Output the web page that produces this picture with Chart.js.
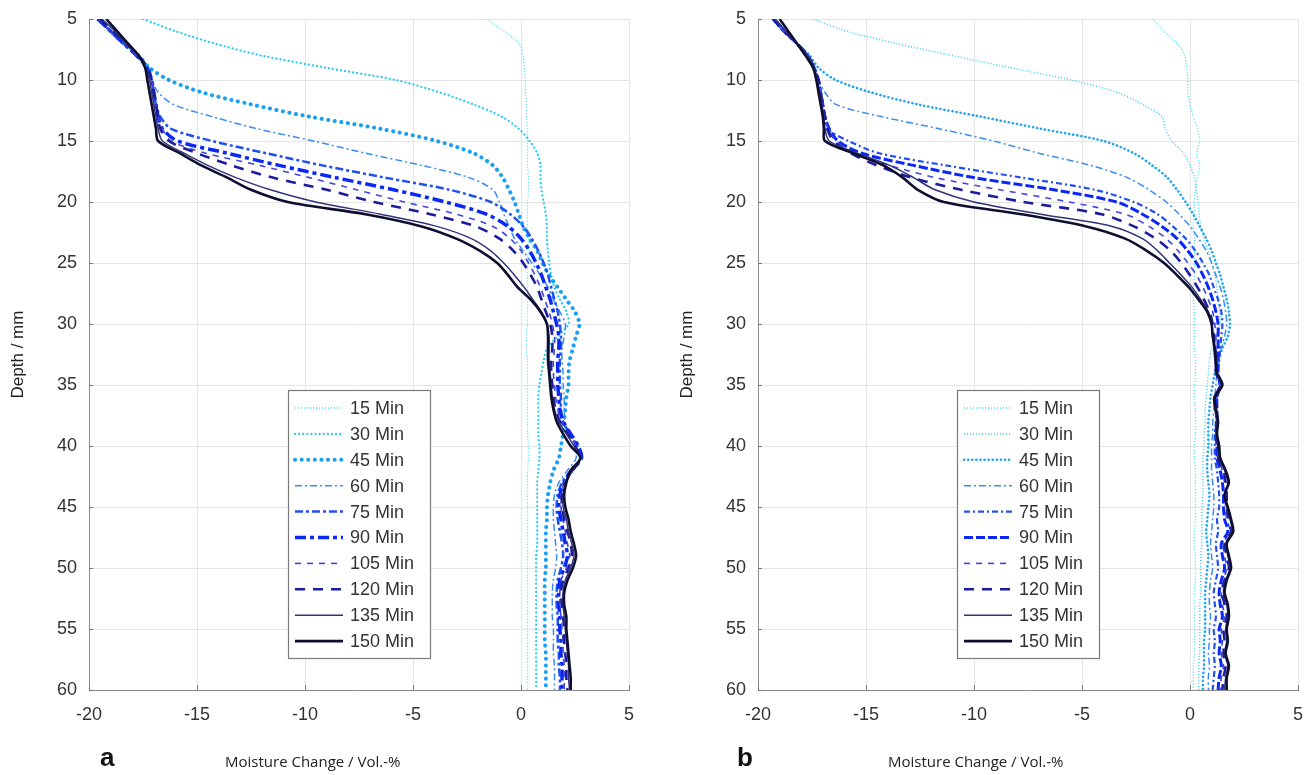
<!DOCTYPE html>
<html>
<head>
<meta charset="utf-8">
<script src="https://cdn.jsdelivr.net/npm/chart.js@4.4.1/dist/chart.umd.min.js"></script>
<style>
  html, body { margin: 0; padding: 0; background: #fff; }
  body { width: 1313px; height: 775px; position: relative; overflow: hidden; }
  .panel { position: absolute; top: 0; height: 775px; }
  #wrapA { left: 0; width: 656px; }
  #wrapB { left: 669px; width: 644px; }
  .tag { position: absolute; top: 742px; font: bold 26px "Liberation Sans", Arial, sans-serif; color: #111; }
  .cap { position: absolute; top: 751px; font: 15px "Open Sans", sans-serif; color: #222; }
</style>
</head>
<body>
<div class="panel" id="wrapA"><canvas id="chartA" width="656" height="775"></canvas></div>
<div class="panel" id="wrapB"><canvas id="chartB" width="644" height="775"></canvas></div>
<div class="tag" style="left:100px">a</div>
<div class="cap" style="left:225px">Moisture Change / Vol.-%</div>
<div class="tag" style="left:737px">b</div>
<div class="cap" style="left:888px">Moisture Change / Vol.-%</div>
<script>
// depth in mm, one row of values per mm
const depthMm = [];
for (let d = 5; d <= 60; d++) depthMm.push(d);

const seriesLabels = ['15 Min', '30 Min', '45 Min', '60 Min', '75 Min', '90 Min', '105 Min', '120 Min', '135 Min', '150 Min'];
const xTickValues = [-20, -15, -10, -5, 0, 5];
const yTickValues = [5, 10, 15, 20, 25, 30, 35, 40, 45, 50, 55, 60];

// panel a : moisture change (Vol.-%) per depth
const a15 = [-1.6,-0.8,-0.1,0.1,0.15,0.2,0.2,0.25,0.25,0.3, 0.3,0.3,0.3,0.35,0.35,0.3,0.3,0.3,0.35,0.35, 0.3,0.3,0.3,0.3,0.3,0.3,0.25,0.25,0.3,0.3, 0.3,0.3,0.3,0.3,0.3,0.35,0.35,0.3,0.3,0.3, 0.3,0.3,0.3,0.3,0.3,0.3,0.3,0.3,0.3,0.3, 0.3,0.3,0.3,0.3,0.3,0.3];
const a30 = [-17.5,-16.0,-14.2,-12.0,-9.0,-5.8,-3.8,-2.2,-0.9,-0.1, 0.4,0.75,0.9,0.9,0.95,1.05,1.15,1.2,1.2,1.25, 1.3,1.4,1.55,1.8,2.1,2.2,1.7,1.2,1.05,0.95, 0.85,0.8,0.8,0.8,0.8,0.85,0.85,0.8,0.75,0.75, 0.75,0.75,0.75,0.75,0.7,0.7,0.7,0.7,0.7,0.7, 0.7,0.7,0.7,0.7,0.7,0.7];
const a45 = [-19.5,-19.0,-18.4,-17.7,-17.2,-16.3,-14.8,-12.5,-9.8,-6.5, -3.9,-2.2,-1.3,-0.85,-0.55,-0.3,-0.1,0.1,0.4,0.75, 1.0,1.3,1.7,2.1,2.5,2.7,2.55,2.4,2.25,2.2, 2.2,2.1,2.05,2.0,1.95,1.85,1.75,1.5,1.35,1.25, 1.2,1.2,1.15,1.15,1.15,1.15,1.1,1.1,1.1,1.1, 1.1,1.1,1.15,1.15,1.15,1.15];
const a60 = [-19.6,-19.0,-18.4,-17.8,-17.3,-17.1,-16.8,-16.1,-14.3,-12.2, -9.6,-7.2,-4.6,-2.4,-1.3,-1.0,-0.8,-0.55,-0.3,0.1, 0.5,0.9,1.25,1.5,1.8,2.05,2.0,1.9,1.9,1.95, 1.95,2.0,2.0,2.05,2.25,2.5,2.55,2.15,1.75,1.55, 1.5,1.5,1.55,1.6,1.65,1.6,1.5,1.45,1.45,1.45, 1.5,1.5,1.5,1.55,1.55,1.55];
const a75 = [-19.6,-19.0,-18.4,-17.8,-17.3,-17.1,-17.0,-16.9,-16.7,-16.2, -14.3,-11.8,-9.2,-6.3,-3.3,-1.4,-0.5,0.1,0.5,0.8, 1.05,1.25,1.4,1.55,1.7,1.8,1.85,1.85,1.8,1.8, 1.8,1.85,1.85,1.95,2.25,2.6,2.75,2.3,1.9,1.7, 1.65,1.7,1.8,1.9,1.95,1.85,1.7,1.65,1.65,1.7, 1.7,1.7,1.75,1.75,1.8,1.8];
const a90 = [-19.6,-19.0,-18.4,-17.8,-17.3,-17.1,-17.0,-16.9,-16.8,-16.6, -15.9,-13.6,-11.2,-8.6,-5.9,-3.5,-1.6,-0.6,0.0,0.4, 0.7,0.95,1.15,1.35,1.5,1.65,1.75,1.75,1.7,1.7, 1.7,1.75,1.8,1.95,2.3,2.65,2.8,2.35,2.0,1.8, 1.75,1.85,1.95,2.05,2.15,2.0,1.8,1.75,1.75,1.8, 1.8,1.85,1.85,1.9,1.9,1.9];
const a105 = [-19.6,-19.0,-18.4,-17.8,-17.3,-17.1,-17.0,-16.9,-16.8,-16.6, -16.2,-14.6,-12.1,-9.8,-7.6,-5.4,-3.0,-1.3,-0.5,0.0, 0.35,0.65,0.9,1.1,1.3,1.45,1.55,1.55,1.5,1.5, 1.55,1.6,1.7,1.85,2.2,2.55,2.75,2.35,2.0,1.85, 1.85,1.95,2.05,2.15,2.25,2.1,1.85,1.8,1.8,1.85, 1.9,1.95,1.95,2.0,2.0,2.0];
const a120 = [-19.5,-18.9,-18.3,-17.7,-17.3,-17.1,-17.0,-16.9,-16.8,-16.7, -16.3,-15.0,-13.4,-11.5,-9.0,-6.8,-4.2,-2.1,-1.0,-0.35, 0.1,0.45,0.75,0.95,1.15,1.35,1.45,1.45,1.4,1.4, 1.45,1.5,1.6,1.8,2.15,2.5,2.75,2.4,2.05,1.9, 1.9,2.0,2.15,2.3,2.35,2.2,1.95,1.85,1.9,1.95, 2.0,2.0,2.05,2.1,2.1,2.15];
const a135 = [-19.4,-18.8,-18.3,-17.7,-17.4,-17.2,-17.1,-17.0,-16.9,-16.8, -16.6,-15.6,-14.5,-13.2,-11.6,-9.5,-6.5,-3.9,-2.3,-1.4, -0.8,-0.3,0.15,0.55,0.95,1.2,1.3,1.3,1.3,1.35, 1.4,1.45,1.55,1.75,2.1,2.45,2.75,2.4,2.05,1.95, 1.95,2.1,2.2,2.35,2.45,2.3,2.05,1.95,1.95,2.0, 2.05,2.1,2.15,2.2,2.2,2.25];
const a150 = [-19.2,-18.7,-18.2,-17.7,-17.4,-17.3,-17.2,-17.1,-17.0,-16.9, -16.8,-15.8,-14.8,-13.6,-12.5,-10.8,-7.2,-4.6,-3.0,-1.9, -1.1,-0.6,-0.15,0.45,0.9,1.2,1.25,1.25,1.25,1.3, 1.35,1.4,1.5,1.65,1.95,2.3,2.75,2.3,2.1,2.0, 2.05,2.2,2.3,2.45,2.55,2.4,2.15,2.0,2.0,2.1, 2.1,2.15,2.2,2.25,2.3,2.3];

// panel b
const b15 = [-1.75,-1.2,-0.6,-0.25,-0.15,-0.1,-0.1,0.0,0.15,0.35, 0.45,0.3,0.45,0.35,0.25,0.2,0.2,0.15,0.2,0.2, 0.2,0.2,0.15,0.15,0.2,0.2,0.2,0.2,0.25,0.25, 0.2,0.2,0.25,0.25,0.25,0.2,0.2,0.25,0.25,0.25, 0.25,0.25,0.2,0.2,0.25,0.25,0.25,0.2,0.2,0.2, 0.2,0.2,0.2,0.15,0.15,0.15];
const b30 = [-17.45,-15.9,-13.6,-11.0,-8.3,-5.5,-3.4,-2.2,-1.3,-1.15, -0.85,-0.3,0.0,0.2,0.3,0.38,0.42,0.5,0.65,0.85, 1.0,1.15,1.25,1.3,1.38,1.4,1.2,1.0,0.9,0.85, 0.8,0.75,0.7,0.7,0.65,0.65,0.6,0.6,0.6,0.6, 0.55,0.55,0.55,0.55,0.5,0.5,0.5,0.5,0.45,0.45, 0.45,0.45,0.45,0.4,0.4,0.4];
const b45 = [-19.3,-18.8,-18.2,-17.6,-17.2,-16.4,-14.8,-12.6,-9.7,-6.9, -4.0,-2.6,-1.75,-1.05,-0.6,-0.2,0.15,0.45,0.75,1.0, 1.2,1.4,1.55,1.7,1.8,1.85,1.75,1.5,1.3,1.15, 1.05,0.95,0.9,0.85,0.85,0.85,0.8,0.8,0.85,0.9, 0.85,0.8,0.75,0.8,0.85,0.8,0.75,0.7,0.7,0.7, 0.7,0.65,0.65,0.65,0.6,0.6];
const b60 = [-19.3,-18.8,-18.2,-17.7,-17.4,-17.2,-16.9,-16.4,-14.3,-11.6, -9.1,-7.0,-4.6,-2.9,-1.9,-1.1,-0.5,0.0,0.4,0.75, 1.0,1.2,1.4,1.55,1.65,1.7,1.6,1.45,1.35,1.25, 1.2,1.15,1.1,1.05,1.05,1.0,1.0,1.0,1.05,1.1, 1.1,1.05,1.0,0.95,1.0,1.05,0.95,0.9,0.9,0.95, 0.9,0.9,0.85,0.9,0.85,0.85];
const b75 = [-19.3,-18.8,-18.2,-17.7,-17.4,-17.2,-17.1,-17.0,-16.9,-16.8, -15.8,-14.4,-11.3,-7.8,-4.4,-2.6,-1.5,-0.8,-0.2,0.25, 0.6,0.9,1.1,1.3,1.45,1.5,1.45,1.4,1.35,1.3, 1.35,1.25,1.2,1.2,1.15,1.15,1.15,1.25,1.3,1.35, 1.35,1.25,1.3,1.2,1.25,1.3,1.2,1.1,1.15,1.2, 1.1,1.15,1.1,1.15,1.1,1.05];
const b90 = [-19.3,-18.8,-18.2,-17.7,-17.4,-17.2,-17.1,-17.0,-16.9,-16.7, -16.3,-15.2,-12.8,-10.0,-6.3,-3.4,-2.2,-1.3,-0.6,-0.1, 0.3,0.6,0.85,1.05,1.2,1.3,1.3,1.3,1.3,1.3, 1.4,1.25,1.25,1.25,1.2,1.25,1.25,1.4,1.5,1.55, 1.55,1.6,1.75,1.45,1.5,1.6,1.45,1.35,1.4,1.5, 1.35,1.4,1.35,1.45,1.35,1.3];
const b105 = [-19.3,-18.8,-18.2,-17.7,-17.4,-17.2,-17.1,-17.0,-16.9,-16.75, -16.4,-15.5,-13.9,-11.8,-8.8,-5.6,-3.0,-1.9,-1.1,-0.55, -0.1,0.3,0.6,0.85,1.05,1.15,1.2,1.2,1.25,1.25, 1.4,1.2,1.2,1.25,1.2,1.3,1.3,1.5,1.6,1.65, 1.65,1.7,1.85,1.55,1.6,1.7,1.55,1.45,1.5,1.6, 1.45,1.5,1.45,1.55,1.45,1.4];
const b120 = [-19.3,-18.8,-18.2,-17.7,-17.4,-17.2,-17.1,-17.0,-16.9,-16.8, -16.5,-15.7,-14.5,-12.9,-10.6,-7.7,-4.1,-2.6,-1.6,-0.9, -0.4,0.0,0.35,0.65,0.9,1.05,1.1,1.15,1.2,1.2, 1.4,1.15,1.2,1.25,1.2,1.3,1.3,1.55,1.65,1.7, 1.7,1.8,1.9,1.6,1.7,1.8,1.6,1.5,1.6,1.7, 1.55,1.6,1.55,1.65,1.55,1.5];
const b135 = [-19.2,-18.7,-18.2,-17.7,-17.4,-17.25,-17.15,-17.05,-16.95,-16.9, -16.7,-15.4,-13.9,-12.8,-11.8,-10.0,-6.9,-3.6,-2.2,-1.5, -0.95,-0.4,0.1,0.5,0.85,1.0,1.05,1.1,1.15,1.2, 1.45,1.1,1.15,1.25,1.2,1.3,1.35,1.6,1.75,1.6, 1.7,1.85,1.95,1.65,1.75,1.85,1.65,1.55,1.7,1.75, 1.65,1.7,1.6,1.75,1.65,1.6];
const b150 = [-19.0,-18.6,-18.2,-17.8,-17.45,-17.3,-17.2,-17.1,-17.0,-16.95, -16.9,-15.6,-14.2,-13.3,-12.6,-11.4,-7.8,-4.8,-3.0,-2.0, -1.2,-0.6,-0.05,0.4,0.8,1.0,1.05,1.15,1.2,1.25, 1.5,1.15,1.2,1.3,1.25,1.35,1.4,1.65,1.8,1.6, 1.75,1.9,2.0,1.7,1.8,1.9,1.7,1.6,1.75,1.8, 1.7,1.75,1.65,1.8,1.7,1.7];

// line styles per series (same order as seriesLabels)
const stylesA = [
  { color: '#3fe3f0', width: 1.3, dash: [1, 2], cap: 'butt' },
  { color: '#22ccee', width: 2.2, dash: [0.1, 4], cap: 'round' },
  { color: '#1aa0f0', width: 4, dash: [0.1, 6.5], cap: 'round' },
  { color: '#3a8cf5', width: 1.5, dash: [7, 3, 2, 3], cap: 'butt' },
  { color: '#1f50f0', width: 2.5, dash: [8, 3, 3, 3], cap: 'butt' },
  { color: '#0a28f5', width: 3.5, dash: [11, 4, 4, 4], cap: 'butt' },
  { color: '#4444e0', width: 1.6, dash: [6, 6], cap: 'butt' },
  { color: '#1c1c9e', width: 2.6, dash: [10, 8], cap: 'butt' },
  { color: '#33337a', width: 1.5, dash: [], cap: 'butt' },
  { color: '#0e0e30', width: 2.6, dash: [], cap: 'butt' }
];
const stylesB = [
  { color: '#40e2ee', width: 1.3, dash: [1, 2], cap: 'butt' },
  { color: '#38d0f0', width: 1.5, dash: [1, 2], cap: 'butt' },
  { color: '#22a4f0', width: 2.6, dash: [0.1, 4], cap: 'round' },
  { color: '#3a8cf5', width: 1.5, dash: [7, 3, 2, 3], cap: 'butt' },
  { color: '#2450f0', width: 2.2, dash: [6, 3, 2, 3], cap: 'butt' },
  { color: '#0a28f5', width: 3, dash: [9, 3], cap: 'butt' },
  { color: '#4444e0', width: 1.6, dash: [6, 6], cap: 'butt' },
  { color: '#1c1c9e', width: 2.6, dash: [10, 8], cap: 'butt' },
  { color: '#33337a', width: 1.5, dash: [], cap: 'butt' },
  { color: '#0e0e30', width: 2.6, dash: [], cap: 'butt' }
];

const FONT = '"Liberation Sans", Arial, Helvetica, sans-serif';
Chart.defaults.font.family = FONT;

// legend drawn inside the plot area, like the matlab box
const insideLegend = {
  id: 'insideLegend',
  afterDraw(chart, args, opts) {
    const ctx = chart.ctx;
    const x0 = opts.left, y0 = opts.top;
    ctx.save();
    ctx.fillStyle = '#fff';
    ctx.fillRect(x0, y0, opts.width, opts.height);
    ctx.strokeStyle = '#7a7a7a';
    ctx.lineWidth = 1.2;
    ctx.strokeRect(x0 + 0.5, y0 + 0.5, opts.width, opts.height);
    chart.data.datasets.forEach(function(ds, i) {
      const y = y0 + 18 + i * 25.9;
      ctx.beginPath();
      ctx.setLineDash(ds.borderDash);
      ctx.lineCap = ds.borderCapStyle;
      ctx.lineWidth = ds.borderWidth;
      ctx.strokeStyle = ds.borderColor;
      ctx.moveTo(x0 + 7, y);
      ctx.lineTo(x0 + 55, y);
      ctx.stroke();
      ctx.setLineDash([]);
      ctx.fillStyle = '#333';
      ctx.font = '18px ' + FONT;
      ctx.textBaseline = 'middle';
      ctx.fillText(ds.label, x0 + 62, y + 1);
    });
    ctx.restore();
  }
};

// small inward tick marks on the two axes
const innerTicks = {
  id: 'innerTicks',
  afterDatasetsDraw(chart) {
    const ctx = chart.ctx, area = chart.chartArea;
    const sx = chart.scales.x, sy = chart.scales.y;
    ctx.save();
    ctx.strokeStyle = '#777';
    ctx.lineWidth = 1;
    sx.ticks.forEach(function(t) {
      const px = Math.round(sx.getPixelForValue(t.value)) + 0.5;
      ctx.beginPath(); ctx.moveTo(px, area.bottom); ctx.lineTo(px, area.bottom - 5); ctx.stroke();
    });
    sy.ticks.forEach(function(t) {
      const py = Math.round(sy.getPixelForValue(t.value)) + 0.5;
      ctx.beginPath(); ctx.moveTo(area.left, py); ctx.lineTo(area.left + 4, py); ctx.stroke();
    });
    ctx.restore();
  }
};

function makePanel(canvasId, values, styles, rightPad) {
  const datasets = values.map(function(vals, i) {
    const st = styles[i];
    return {
      label: seriesLabels[i],
      data: depthMm.map(function(d, k) { return { x: vals[k], y: d }; }),
      showLine: true,
      fill: false,
      tension: 0.3,
      pointRadius: 0,
      borderColor: st.color,
      borderWidth: st.width,
      borderDash: st.dash,
      borderCapStyle: st.cap,
      order: values.length - i
    };
  });

  return new Chart(document.getElementById(canvasId), {
    type: 'scatter',
    data: { datasets: datasets },
    plugins: [innerTicks, insideLegend],
    options: {
      responsive: false,
      animation: false,
      layout: { padding: { top: 19, right: rightPad, left: 0, bottom: 0 } },
      plugins: {
        legend: { display: false },
        tooltip: { enabled: false },
        insideLegend: { left: 288, top: 390, width: 142, height: 268 }
      },
      scales: {
        x: {
          type: 'linear',
          min: -20, max: 5,
          afterBuildTicks: function(s) { s.ticks = xTickValues.map(function(v) { return { value: v }; }); },
          afterFit: function(s) { s.height = 85; s.paddingLeft = 0; s.paddingRight = 0; },
          grid: { color: '#e4e4e4', drawTicks: false },
          border: { display: true, color: '#8a8a8a' },
          ticks: { color: '#333', font: { size: 18 }, padding: 14, maxRotation: 0 }
        },
        y: {
          type: 'linear',
          reverse: true,
          min: 5, max: 60,
          afterBuildTicks: function(s) { s.ticks = yTickValues.map(function(v) { return { value: v }; }); },
          afterFit: function(s) { s.width = 89; s.paddingTop = 0; s.paddingBottom = 0; },
          grid: { color: '#e4e4e4', drawTicks: false },
          border: { display: true, color: '#8a8a8a' },
          ticks: { color: '#333', font: { size: 18 }, padding: 12 },
          title: { display: true, text: 'Depth / mm', color: '#222', font: { size: 17 }, padding: { top: 8, bottom: 0 } }
        }
      }
    }
  });
}

makePanel('chartA', [a15, a30, a45, a60, a75, a90, a105, a120, a135, a150], stylesA, 27);
makePanel('chartB', [b15, b30, b45, b60, b75, b90, b105, b120, b135, b150], stylesB, 15);
</script>
</body>
</html>
